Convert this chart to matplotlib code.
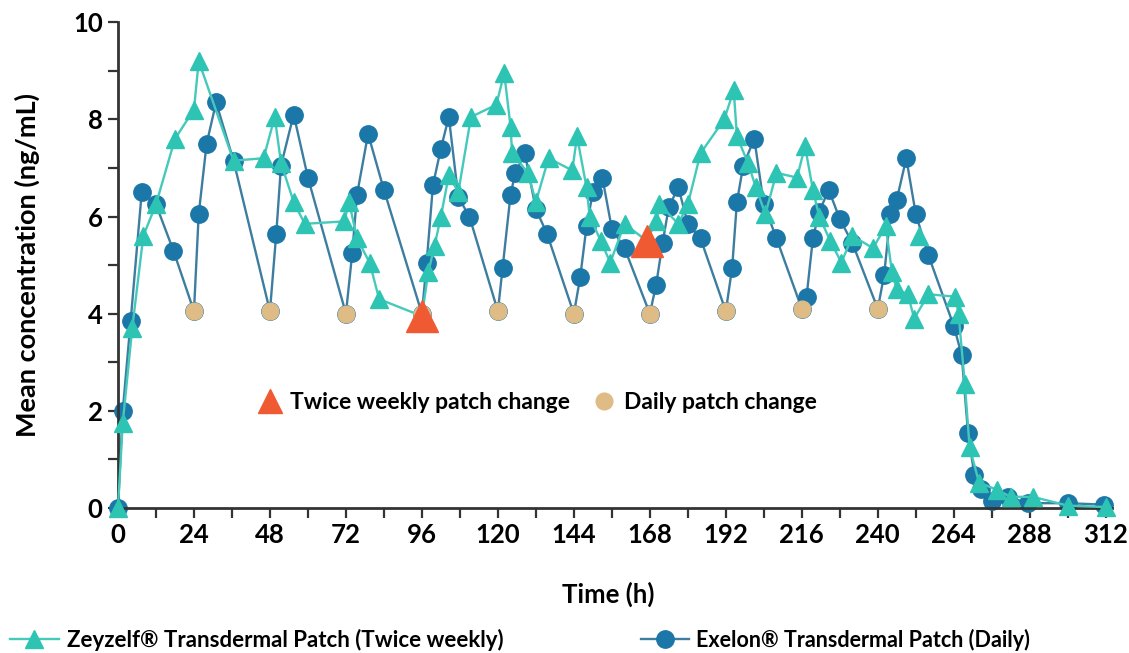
import numpy as np
import matplotlib
matplotlib.use("Agg")
import matplotlib.pyplot as plt
from matplotlib.lines import Line2D

plt.rcParams["font.family"] = ["Lato", "DejaVu Sans"]
plt.rcParams["font.weight"] = "bold"

# ── data ──
zey_t = [0, 1.5, 4.5, 8, 12, 18, 24, 25.5, 36.5, 46,
         49.5, 51.5, 55.5, 59, 71.5, 73, 75.5, 79.5, 82.5, 96,
         98, 100, 102, 104.5, 107.5, 111.5, 119.5, 122, 124, 124.5,
         129.5, 132, 136, 143.5, 145, 148, 149, 152.5, 155.5, 160,
         167, 170, 171, 177, 180, 184, 191.5, 194.5, 195.5, 199,
         201.5, 204.5, 208, 214.5, 217, 219.5, 221.5, 225, 228.5, 232,
         238.5, 242.5, 244.5, 246, 249.5, 251.5, 256, 264.5, 265.5, 267.5,
         269, 272, 277.5, 282, 289, 300, 312]
zey_c = [0, 1.75, 3.7, 5.6, 6.25, 7.6, 8.2, 9.2, 7.15, 7.2,
         8.05, 7.1, 6.3, 5.85, 5.9, 6.3, 5.55, 5.05, 4.3, 3.95,
         4.85, 5.4, 6.0, 6.85, 6.5, 8.05, 8.3, 8.95, 7.85, 7.3,
         6.9, 6.3, 7.2, 6.95, 7.65, 6.6, 6.0, 5.5, 5.05, 5.85,
         5.5, 5.9, 6.25, 5.85, 6.25, 7.3, 8.0, 8.6, 7.65, 7.1,
         6.6, 6.05, 6.9, 6.8, 7.45, 6.55, 6.0, 5.5, 5.05, 5.6,
         5.35, 5.8, 4.85, 4.5, 4.4, 3.9, 4.4, 4.35, 4.0, 2.55,
         1.25, 0.52, 0.38, 0.23, 0.23, 0.05, 0.02]
zey_extra_t = [253]      # stray marker not on the line
zey_extra_c = [5.6]

exe_t = [0, 1.5, 4, 7.5, 12, 17.5, 24, 25.5, 28, 31,
         36.5, 48, 50, 51.5, 55.5, 60, 72, 74, 75.5, 79,
         84, 96, 97.5, 99.5, 102, 104.5, 107.5, 111, 120, 121.5,
         124, 125.5, 128.5, 132, 135.5, 144, 146, 148, 150, 153,
         156, 160, 168, 170, 172, 174, 177, 180, 184, 192,
         194, 195.5, 197.5, 201, 204, 208, 216, 217.5, 219.5, 221.5,
         224.5, 228, 232, 240, 242, 244, 246, 249, 252, 256,
         264, 266.5, 268.5, 270.5, 272.5, 276, 281, 287.5, 300, 311.5]
exe_c = [0, 2.0, 3.85, 6.5, 6.25, 5.3, 4.05, 6.05, 7.5, 8.35,
         7.15, 4.05, 5.65, 7.05, 8.1, 6.8, 4.0, 5.25, 6.45, 7.7,
         6.55, 4.0, 5.05, 6.65, 7.4, 8.05, 6.4, 6.0, 4.05, 4.95,
         6.45, 6.9, 7.3, 6.15, 5.65, 4.0, 4.75, 5.8, 6.5, 6.8,
         5.75, 5.35, 4.0, 4.6, 5.45, 6.2, 6.6, 5.85, 5.55, 4.05,
         4.95, 6.3, 7.05, 7.6, 6.25, 5.55, 4.1, 4.35, 5.55, 6.1,
         6.55, 5.95, 5.45, 4.1, 4.8, 6.05, 6.35, 7.2, 6.05, 5.2,
         3.75, 3.15, 1.55, 0.68, 0.4, 0.15, 0.23, 0.1, 0.1, 0.07]

twice_weekly_t = [96, 167]
daily_t = [24, 48, 72, 96, 120, 144, 168, 192, 216, 240]

x_ticks = list(range(0, 313, 24))
y_ticks = [0, 2, 4, 6, 8, 10]

C_ZEY = "#2ec4b4"; C_ZEY_LINE = "#45c9bb"
C_EXE = "#1b77a8"; C_EXE_LINE = "#3d7d9f"
C_DAILY = "#dfbb85"; C_TWICE = "#f05a32"; C_AX = "#333333"

fig = plt.figure(figsize=(11.29, 6.53), dpi=100)
ax = fig.add_axes([0.1045, 0.222, 0.8805, 0.744])

zt = np.array(zey_t); zc = np.array(zey_c)
et = np.array(exe_t); ec = np.array(exe_c)

ax.plot(et, ec, color=C_EXE_LINE, lw=1.7, marker="o", ms=12.5,
        mfc=C_EXE, mec=C_EXE, zorder=2, clip_on=False)
ax.plot(zt, zc, color=C_ZEY_LINE, lw=1.7, marker="^", ms=13.5,
        mfc=C_ZEY, mec=C_ZEY, zorder=3, clip_on=False)
ax.plot(zey_extra_t, zey_extra_c, ls="none", marker="^", ms=13.5,
        mfc=C_ZEY, mec=C_ZEY, zorder=3)

dm = np.isin(et, daily_t)
ax.plot(et[dm], ec[dm], ls="none", marker="o", ms=12, mfc=C_DAILY, mec=C_DAILY, zorder=4)
tm = np.isin(zt, twice_weekly_t)
ax.plot(zt[tm], zc[tm], ls="none", marker="^", ms=23, mfc=C_TWICE, mec=C_TWICE, zorder=5)

ax.set_xlim(0, 314)
ax.set_ylim(0, 10)
ax.set_xticks(x_ticks)
ax.set_xticks(range(0, 313, 12), minor=True)
ax.set_yticks(y_ticks)
ax.set_yticks(range(0, 11), minor=True)
ax.tick_params(which="both", direction="out", length=7, width=1.6, color=C_AX,
               labelsize=18.5, pad=4)
for s in ("top", "right"):
    ax.spines[s].set_visible(False)
for s in ("left", "bottom"):
    ax.spines[s].set_linewidth(2.0)
    ax.spines[s].set_color(C_AX)
for lab in ax.get_xticklabels() + ax.get_yticklabels():
    lab.set_fontweight("bold")

ax.set_xlabel("Time (h)", fontsize=18.5, fontweight="bold")
ax.set_ylabel("Mean concentration (ng/mL)", fontsize=19.5, fontweight="bold")
ax.xaxis.set_label_coords(0.493, -0.152)
ax.yaxis.set_label_coords(-0.078, 0.5)

# inner legend: patch change markers
h_in = [Line2D([], [], ls="none", marker="^", ms=17, mfc=C_TWICE, mec=C_TWICE),
        Line2D([], [], ls="none", marker="o", ms=12, mfc=C_DAILY, mec=C_DAILY)]
ax.legend(h_in, ["Twice weekly patch change", "Daily patch change"], ncol=2,
          loc="center left", bbox_to_anchor=(0.121, 0.218), frameon=False,
          prop={"size": 16.5, "weight": "bold"}, handlelength=1.0,
          handletextpad=0.35, columnspacing=1.0)

# bottom legends
h1 = Line2D([], [], color=C_ZEY_LINE, lw=1.7, marker="^", ms=13.5, mfc=C_ZEY, mec=C_ZEY)
h2 = Line2D([], [], color=C_EXE_LINE, lw=1.7, marker="o", ms=12.5, mfc=C_EXE, mec=C_EXE)
fig.legend([h1], ["Zeyzelf® Transdermal Patch (Twice weekly)"], loc="center left",
           bbox_to_anchor=(-0.009, 0.02), frameon=False,
           prop={"size": 16, "weight": "bold"}, handlelength=2.2, handletextpad=0.35)
fig.legend([h2], ["Exelon® Transdermal Patch (Daily)"], loc="center left",
           bbox_to_anchor=(0.551, 0.02), frameon=False,
           prop={"size": 15.5, "weight": "bold"}, handlelength=2.2, handletextpad=0.35)

fig.savefig("out.png", dpi=100, facecolor="white")
